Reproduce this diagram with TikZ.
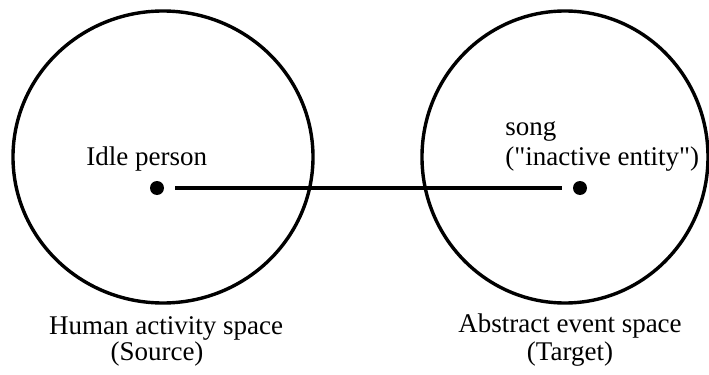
\documentclass[tikz,border=0pt]{standalone}
\usepackage{fontspec}
\setmainfont{Liberation Serif}
\usepackage{tikz}
\usetikzlibrary{shapes.geometric, positioning}

\begin{document}
\begin{tikzpicture}[
  x=0.5pt, y=-0.5pt,
  space/.style={ellipse, draw, line width=1.7pt, inner sep=0pt},
  dot/.style={circle, fill, inner sep=0pt, minimum size=7pt},
  link/.style={line width=1.6pt, shorten <=5.5pt, shorten >=5.5pt},
  lbl/.style={inner sep=0pt, font=\fontsize{13.5}{16}\selectfont}
]
\useasboundingbox (0,0) rectangle (709,375);
\node[space, minimum width=150pt, minimum height=146pt] (source) at (163,157) {};
\node[space, minimum width=143pt, minimum height=146pt] (target) at (565,157) {};
\node[dot] (person) at (157,188) {};
\node[dot] (song) at (580,188) {};
\draw[link] (person) -- (song);
\node[lbl, anchor=base west] (personlbl) at (86,165) {Idle person};
\node[lbl, anchor=base west] (songlbl) at (505,135) {song};
\node[lbl, anchor=base west] (entitylbl) at (505,165) {(\textquotedbl inactive entity\textquotedbl)};
\node[lbl, anchor=base] (sourcelbl) at (166,335) {Human activity space};
\node[lbl, anchor=base] (sourcetag) at (157,360) {(Source)};
\node[lbl, anchor=base] (targetlbl) at (570,333) {Abstract event space};
\node[lbl, anchor=base] (targettag) at (570,360) {(Target)};
\end{tikzpicture}
\end{document}
